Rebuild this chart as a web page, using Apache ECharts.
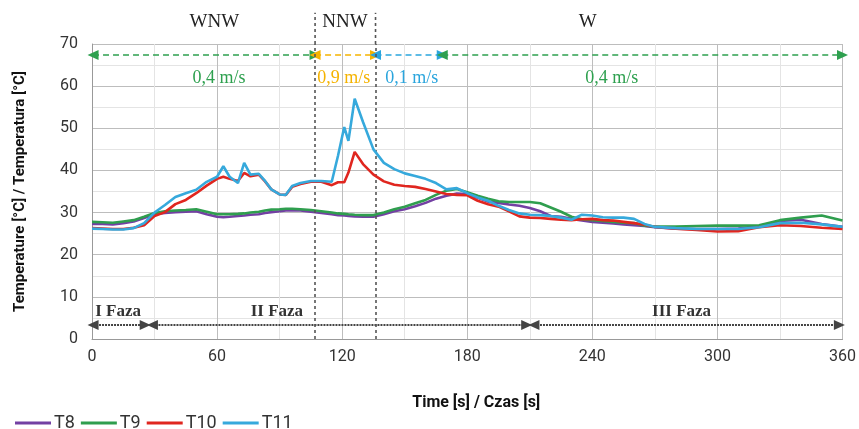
<!DOCTYPE html>
<html><head><meta charset="utf-8">
<script src="https://cdn.jsdelivr.net/npm/echarts@6/dist/echarts.min.js"></script>
<style>html,body{margin:0;padding:0;background:#fff}#c{width:859px;height:429px}</style>
</head><body><div id="c"></div>
<script>
// ---- data ----
const time = [0,5,10,15,20,25,30,35,40,45,50,55,60,
  63,66,70,73,76,80,83,86,90,93,96,100,
  105,110,115,118,121,123,126,130,135,
  140,145,150,155,160,165,170,175,180,185,190,195,200,205,210,215,220,225,230,235,240,245,250,255,260,265,270,
  280,290,300,310,320,330,340,350,360];
const T8 = [27.3,27.3,27.2,27.5,27.9,28.7,29.6,29.9,30.1,30.2,30.3,29.6,29.0,
  28.9,29.0,29.2,29.3,29.5,29.6,29.9,30.1,30.3,30.5,30.5,30.5,
  30.2,29.9,29.6,29.4,29.3,29.2,29.1,29.0,29.0,
  29.6,30.3,30.8,31.5,32.3,33.3,34.0,34.5,34.4,33.5,32.6,32.3,31.9,31.6,31.1,30.3,29.2,29.0,28.5,28.1,27.8,27.6,27.4,27.2,27.0,26.8,26.5,
  26.2,26.1,26.1,26.2,26.8,28.0,28.3,27.3,26.6];
const T9 = [27.8,27.7,27.6,27.9,28.2,29.0,29.9,30.3,30.5,30.6,30.8,30.2,29.6,
  29.6,29.6,29.7,29.8,30.0,30.2,30.5,30.7,30.8,30.9,30.9,30.8,
  30.6,30.3,30.0,29.8,29.7,29.6,29.5,29.4,29.4,
  30.0,30.8,31.4,32.2,33.0,34.2,35.2,35.6,34.8,34.0,33.3,32.7,32.5,32.5,32.5,32.2,31.2,30.2,29.0,28.4,28.2,28.0,27.8,27.6,27.5,26.9,26.7,
  26.7,26.8,26.9,26.9,27.0,28.2,28.8,29.3,28.1];
const T10 = [26.3,26.2,26.1,26.1,26.4,27.0,29.2,30.1,32.0,33.0,34.6,36.4,38.0,
  38.5,38.0,37.5,39.4,38.6,39.0,37.4,35.5,34.3,34.2,36.1,36.8,
  37.3,37.3,36.5,37.2,37.2,39.5,44.4,41.5,39.0,
  37.4,36.6,36.3,36.1,35.6,35.0,34.4,34.2,34.1,32.8,32.0,31.4,30.3,29.1,28.8,28.7,28.5,28.3,28.2,28.4,28.5,28.2,28.1,27.8,27.5,27.1,26.6,
  26.2,25.9,25.5,25.6,26.5,27.0,26.8,26.4,26.1];
const T11 = [26.2,26.1,26.0,26.0,26.3,27.5,30.0,31.8,33.7,34.6,35.4,37.3,38.5,
  41.0,38.5,37.0,41.8,39.0,39.2,37.5,35.5,34.3,34.2,36.3,37.0,
  37.5,37.5,37.3,43.5,50.3,47.0,57.0,51.5,45.0,
  41.8,40.3,39.3,38.7,38.0,37.0,35.5,35.8,34.6,33.6,32.8,31.6,30.6,29.8,29.5,29.4,29.2,28.8,28.3,29.5,29.3,28.9,28.8,28.8,28.5,27.3,26.6,
  26.3,26.1,26.1,26.1,26.5,27.5,27.6,27.2,26.6];
const seriesNames = ['T8','T9','T10','T11'];
const seriesValues = [T8, T9, T10, T11];
const seriesColors = ['#7340a3','#2f9e4e','#e0261f','#36a9dc'];

// annotations (time values in s, levels in °C)
const windDirections = ['WNW','NNW','W'];
const windDirTimes = [58.7,121.3,237.8];
const windBounds = [107,136];
const speedSegments = [[0.5,107],[107,136],[136,168],[168,360]];
const speedColors = ['#2ea04f','#f5b300','#2aa5dd','#2ea04f'];
const speedLabels = ['0,4 m/s','0,9 m/s','0,1 m/s','0,4 m/s'];
const speedLabelTimes = [60.9,120.8,153.4,249.3];
const phaseSegments = [[0.5,25.5],[29,208.5],[212,358.5]];
const phaseLabels = ['I Faza','II Faza','III Faza'];
const phaseLabelTimes = [12.5,88.7,282.8];
const arrowLevel = 67.4, speedLabelLevel = 61.9, dirLabelLevel = 75.2, boundTop = 77.4;
const phaseLevel = 3.3, phaseLabelLevel = 6.4;

const chart = echarts.init(document.getElementById('c'));
const series = seriesNames.map((n, i) => ({
  name: n, type: 'line', symbol: 'none', smooth: false, z: 3 + i,
  lineStyle: { width: 2.6, color: seriesColors[i] }, itemStyle: { color: seriesColors[i] },
  data: time.map((t, k) => [t, seriesValues[i][k]])
}));
const markData = [];
speedSegments.forEach((s, i) => markData.push([
  { coord: [s[0], arrowLevel], lineStyle: { color: speedColors[i], type: [6,4], width: 1.6 }, itemStyle: { color: speedColors[i] } },
  { coord: [s[1], arrowLevel] }
]));
phaseSegments.forEach((s) => markData.push([
  { coord: [s[0], phaseLevel], lineStyle: { color: '#444', type: [2,1], width: 2 }, itemStyle: { color: '#111' } },
  { coord: [s[1], phaseLevel] }
]));
series.push({
  name: 'annot', type: 'line', data: [], silent: true, z: 10,
  markLine: {
    silent: true, animation: false, symbol: ['triangle','triangle'], symbolSize: [10, 11],
    label: { show: false }, emphasis: { disabled: true },
    data: markData
  }
});
series.push({
  name: 'bounds', type: 'line', data: [], silent: true, z: 9,
  markLine: {
    silent: true, animation: false, symbol: ['none','none'],
    label: { show: false }, emphasis: { disabled: true },
    lineStyle: { color: '#555', type: [3,3], width: 1.6 },
    data: windBounds.map(b => ({ xAxis: b }))
  }
});

chart.setOption({
  animation: false,
  backgroundColor: '#fff',
  grid: { left: 92, right: 16, top: 44, bottom: 90, containLabel: false },
  legend: {
    data: seriesNames, left: 10, top: 409, itemWidth: 36, itemHeight: 3, itemGap: 6,
    icon: 'rect', textStyle: { fontFamily: 'Roboto', fontSize: 18, color: '#333', padding: [0,0,0,-2] }
  },
  xAxis: {
    type: 'value', min: 0, max: 360, interval: 60,
    name: 'Time [s] / Czas [s]', nameLocation: 'middle', nameGap: 56,
    nameTextStyle: { fontFamily: 'Roboto', fontWeight: 'bold', fontSize: 16, color: '#111', padding: [0,0,0,18] },
    axisLine: { lineStyle: { color: '#999', width: 1 } },
    axisTick: { show: false },
    axisLabel: { fontFamily: 'Roboto', fontSize: 16, color: '#333', margin: 10 },
    splitLine: { show: true, lineStyle: { color: '#bdbdbd', width: 1 } },
    minorTick: { show: false, splitNumber: 2 },
    minorSplitLine: { show: true, lineStyle: { color: '#e4e4e4', width: 1 } }
  },
  yAxis: {
    type: 'value', min: 0, max: 70, interval: 10,
    name: 'Temperature [°C] / Temperatura [°C]', nameLocation: 'middle', nameGap: 64,
    nameTextStyle: { fontFamily: 'Roboto', fontWeight: 'bold', fontSize: 15, color: '#111' },
    axisLine: { show: true, lineStyle: { color: '#999', width: 1 } },
    axisTick: { show: false },
    axisLabel: { fontFamily: 'Roboto', fontSize: 16, color: '#333', margin: 14 },
    splitLine: { show: true, lineStyle: { color: '#bdbdbd', width: 1 } },
    minorTick: { show: false, splitNumber: 2 },
    minorSplitLine: { show: true, lineStyle: { color: '#e4e4e4', width: 1 } }
  },
  series: series
});

// ---- text annotations placed through the axes' scales ----
const px = (t, v) => chart.convertToPixel({ gridIndex: 0 }, [t, v]);
const graphics = [];
const serif = '"Liberation Serif", "Times New Roman", serif';
windDirections.forEach((d, i) => {
  const p = px(windDirTimes[i], dirLabelLevel);
  graphics.push({ type: 'text', x: p[0], y: p[1], style: { text: d, font: '19px ' + serif, fill: '#222', align: 'center', verticalAlign: 'middle' } });
});
speedLabels.forEach((s, i) => {
  const p = px(speedLabelTimes[i], speedLabelLevel);
  graphics.push({ type: 'text', x: p[0], y: p[1], z: 20, style: { text: s, font: '18px ' + serif, fill: speedColors[i], align: 'center', verticalAlign: 'middle' } });
});
phaseLabels.forEach((s, i) => {
  const p = px(phaseLabelTimes[i], phaseLabelLevel);
  graphics.push({ type: 'text', x: p[0], y: p[1], z: 20, style: { text: s, font: 'bold 17px ' + serif, fill: '#333', align: 'center', verticalAlign: 'middle' } });
});
windBounds.forEach((b) => {
  const a = px(b, 70), c = px(b, boundTop);
  graphics.push({ type: 'line', shape: { x1: a[0], y1: a[1], x2: c[0], y2: c[1] }, style: { stroke: '#555', lineWidth: 1.6, lineDash: [3,3] } });
});
chart.setOption({ graphic: graphics });
</script>
</body></html>
